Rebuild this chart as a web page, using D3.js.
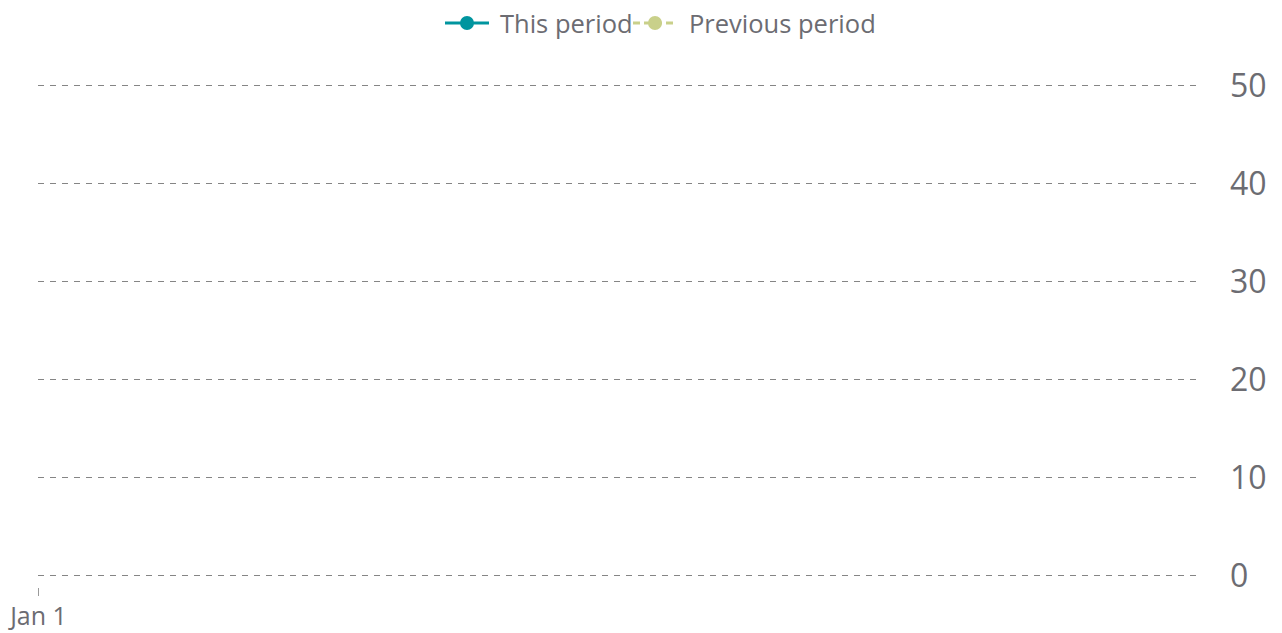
<!DOCTYPE html>
<html>
<head>
<meta charset="utf-8">
<script src="https://cdn.jsdelivr.net/npm/d3@7"></script>
<style>
  html, body { margin: 0; padding: 0; background: #fff; }
  svg { display: block; font-family: "Open Sans", "Noto Sans", sans-serif; }
  svg text { font-family: "Open Sans", "Noto Sans", sans-serif; }
</style>
</head>
<body>
<svg id="chart" width="1282" height="633"></svg>
<script>
// ---- data ----
const categories = ["Jan 1"];
const thisPeriod = [null];
const previousPeriod = [null];
const yTicks = [0, 10, 20, 30, 40, 50];
const seriesNames = ["This period", "Previous period"];
const seriesColors = ["#00959f", "#c9d08a"];

const svg = d3.select("#chart");
const plotLeft = 38, plotRight = 1200, plotTop = 85, plotBottom = 575;
const textColor = "#6c6c72";

const x = d3.scalePoint().domain(categories).range([plotLeft, plotRight]).padding(0).align(0);
const y = d3.scaleLinear().domain([0, 50]).range([plotBottom, plotTop]);

// y grid + labels on the right
const yAxis = d3.axisRight(y).tickValues(yTicks).tickSize(0).tickPadding(30);
const gy = svg.append("g").attr("transform", `translate(${plotRight},0)`).call(yAxis)
  .attr("font-family", null);
gy.select(".domain").remove();
gy.selectAll(".tick line")
  .attr("x1", -(plotRight - plotLeft)).attr("x2", 0)
  .attr("stroke", "#858585").attr("stroke-width", 1).attr("stroke-dasharray", "6,6");
gy.selectAll(".tick text")
  .attr("fill", textColor).style("font-size", "32px").attr("text-anchor", "start").attr("dy", "0.35em");

// x axis
const xAxis = d3.axisBottom(x).tickSize(8).tickPadding(11);
const gx = svg.append("g").attr("transform", `translate(0,588)`).call(xAxis)
  .attr("font-family", null);
gx.select(".domain").remove();
gx.selectAll(".tick line").attr("stroke", "#9a9a9a");
gx.selectAll(".tick text").attr("fill", textColor).style("font-size", "25px");

// series
const series = [
  { name: seriesNames[0], values: thisPeriod, color: seriesColors[0], dash: null },
  { name: seriesNames[1], values: previousPeriod, color: seriesColors[1], dash: "7,4" }
];
const line = d3.line()
  .defined(d => d.v != null)
  .x(d => x(d.c)).y(d => y(d.v));
series.forEach(s => {
  const pts = categories.map((c, i) => ({ c, v: s.values[i] }));
  svg.append("path").datum(pts).attr("d", line)
    .attr("fill", "none").attr("stroke", s.color).attr("stroke-width", 2.5)
    .attr("stroke-dasharray", s.dash);
  svg.selectAll(null).data(pts.filter(d => d.v != null)).enter().append("circle")
    .attr("cx", d => x(d.c)).attr("cy", d => y(d.v)).attr("r", 5).attr("fill", s.color);
});

// legend
const legendY = 23;
const legendItems = [
  { x0: 445, tx: 500 },
  { x0: 633, tx: 689 }
];
series.forEach((s, i) => {
  const g = svg.append("g");
  const lx = legendItems[i].x0;
  g.append("line").attr("x1", lx).attr("x2", lx + 44).attr("y1", legendY).attr("y2", legendY)
    .attr("stroke", s.color).attr("stroke-width", 3).attr("stroke-dasharray", s.dash);
  g.append("circle").attr("cx", lx + 22).attr("cy", legendY).attr("r", 7).attr("fill", s.color);
  g.append("text").attr("x", legendItems[i].tx).attr("y", legendY + 1.5).attr("dy", "0.35em")
    .attr("fill", textColor).style("font-size", "25.5px").text(s.name);
});
</script>
</body>
</html>
